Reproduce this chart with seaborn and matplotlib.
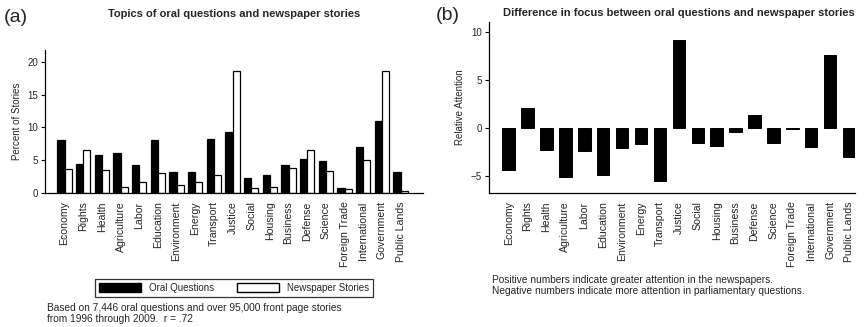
import matplotlib
matplotlib.use("Agg")
import matplotlib.pyplot as plt
import matplotlib.patches as mpatches
import numpy as np
import pandas as pd
import seaborn as sns

topics = ["Economy", "Rights", "Health", "Agriculture", "Labor", "Education",
          "Environment", "Energy", "Transport", "Justice", "Social", "Housing",
          "Business", "Defense", "Science", "Foreign Trade", "International",
          "Government", "Public Lands"]
oral_questions = [8.0, 4.4, 5.7, 6.1, 4.2, 8.0, 3.2, 3.2, 8.2, 9.3, 2.2, 2.7,
                  4.2, 5.2, 4.8, 0.7, 7.0, 10.9, 3.2]
newspaper_stories = [3.6, 6.5, 3.4, 0.8, 1.7, 3.0, 1.2, 1.7, 2.7, 18.6, 0.7, 0.9,
                     3.7, 6.5, 3.3, 0.6, 5.0, 18.6, 0.2]
relative_attention = [-4.3, 2.1, -2.3, -5.1, -2.4, -4.9, -2.0, -1.6, -5.5, 9.2,
                      -1.5, -1.8, -0.4, 1.4, -1.5, -0.1, -1.9, 7.6, -3.0]
series_names = ["Oral Questions", "Newspaper Stories"]

sns.set_theme(style="white")
plt.rcParams["font.family"] = ["Liberation Sans", "DejaVu Sans"]

W, H = 868, 327
fig = plt.figure(figsize=(W / 100, H / 100), dpi=100)

def px_axes(left, top, right, bottom):
    return fig.add_axes([left / W, 1 - bottom / H, (right - left) / W, (bottom - top) / H])

def style_axes(ax):
    for s in ("top", "right"):
        ax.spines[s].set_visible(False)
    for s in ("left", "bottom"):
        ax.spines[s].set_color("black")
        ax.spines[s].set_linewidth(0.9)
    ax.tick_params(axis="y", which="both", left=True, length=3, width=0.8,
                   color="black", labelsize=7, pad=2)
    ax.tick_params(axis="x", bottom=False, labelsize=7.6, pad=0.3)
    for lab in ax.get_xticklabels():
        lab.set_rotation(90)
        lab.set_ha("center")
        lab.set_va("top")
    ax.set_xlabel("")

# Panel (a): topic shares for both sources
long = pd.DataFrame({
    "topic": topics * 2,
    "value": oral_questions + newspaper_stories,
    "source": [series_names[0]] * len(topics) + [series_names[1]] * len(topics),
})
ax1 = px_axes(45, 50, 423, 192.7)
sns.barplot(data=long, x="topic", y="value", hue="source", order=topics,
            hue_order=series_names, palette=["black", "white"], width=0.77,
            edgecolor="black", linewidth=0.9, saturation=1, errorbar=None,
            legend=False, ax=ax1)
ax1.set_xlim(-1.05, 19.2)
ax1.set_ylim(0, 21.8)
ax1.set_yticks([0, 5, 10, 15, 20])
ax1.set_ylabel("Percent of Stories", fontsize=7, labelpad=4)
style_axes(ax1)

# Panel (b): newspaper share minus oral-question share
diff = pd.DataFrame({"topic": topics, "value": relative_attention})
ax2 = px_axes(489, 21.7, 854.7, 192.7)
sns.barplot(data=diff, x="topic", y="value", order=topics, color="black",
            width=0.66, saturation=1, errorbar=None, edgecolor="black",
            linewidth=0.7, ax=ax2)
ax2.set_xlim(-1.04, 18.3)
ax2.set_ylim(-6.7, 11.1)
ax2.set_yticks([-5, 0, 5, 10])
ax2.set_ylabel("Relative Attention", fontsize=7, labelpad=4)
style_axes(ax2)

# Panel letters and titles
fig.text(4 / W, 1 - 18 / H, "(a)", fontsize=14, va="center", ha="left")
fig.text(234 / W, 1 - 14 / H, "Topics of oral questions and newspaper stories",
         fontsize=8, fontweight="bold", ha="center", va="center")
fig.text(436 / W, 1 - 15 / H, "(b)", fontsize=14, va="center", ha="left")
fig.text(679 / W, 1 - 13 / H, "Difference in focus between oral questions and newspaper stories",
         fontsize=8, fontweight="bold", ha="center", va="center")

# Legend for panel (a)
handles = [mpatches.Patch(facecolor="black", edgecolor="black", label=series_names[0]),
           mpatches.Patch(facecolor="white", edgecolor="black", label=series_names[1])]
leg = fig.legend(handles=handles, loc="center", bbox_to_anchor=(234 / W, 1 - 288 / H),
                 ncol=2, fontsize=7, frameon=True, fancybox=False, handlelength=4.3,
                 handleheight=1.0, columnspacing=2.4, borderpad=0.45, handletextpad=0.8)
leg.get_frame().set_edgecolor("black")
leg.get_frame().set_linewidth(0.9)

# Notes
fig.text(47 / W, 1 - 313.5 / H,
         "Based on 7,446 oral questions and over 95,000 front page stories\nfrom 1996 through 2009.  r = .72",
         fontsize=7.3, ha="left", va="center", linespacing=1.05)
fig.text(492 / W, 1 - 285.5 / H,
         "Positive numbers indicate greater attention in the newspapers.\nNegative numbers indicate more attention in parliamentary questions.",
         fontsize=7.3, ha="left", va="center", linespacing=1.05)

fig.savefig("out.png", dpi=100)
